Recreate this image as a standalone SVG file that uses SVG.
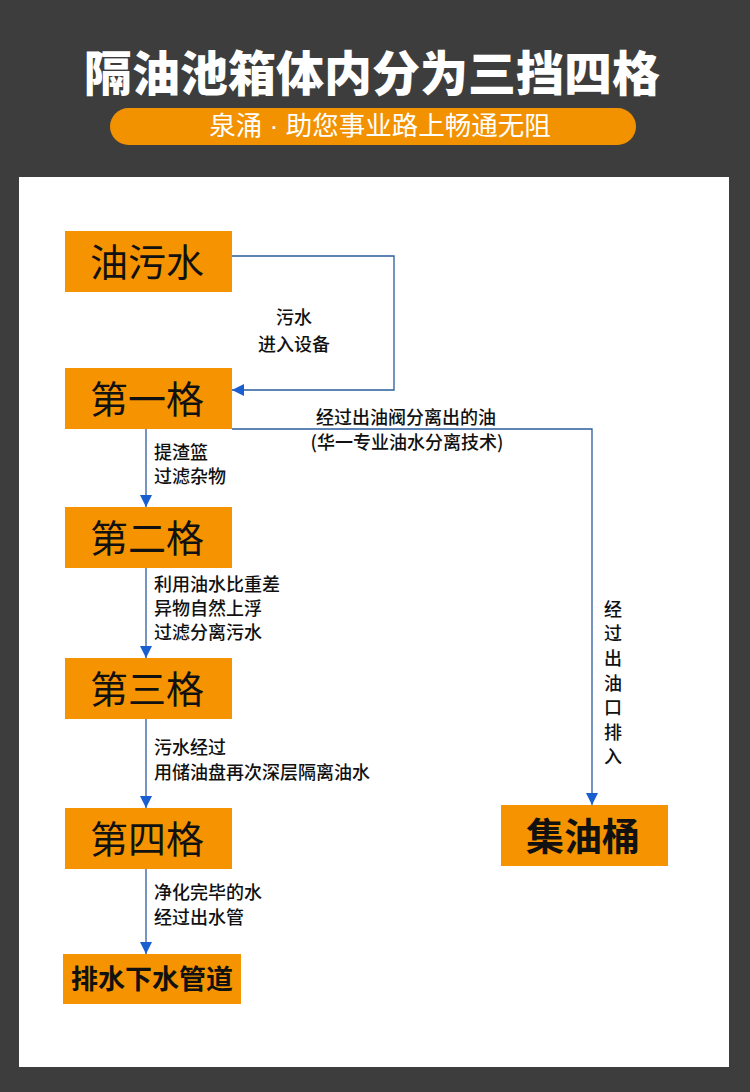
<svg xmlns="http://www.w3.org/2000/svg" width="750" height="1092" viewBox="0 0 750 1092">
<style>
.node{fill:#f59400}
.nt{font-family:"Noto Sans CJK SC","Noto Sans",sans-serif;fill:#111;text-anchor:middle;dominant-baseline:central}
.lbl{font-family:"Noto Sans CJK SC","Noto Sans",sans-serif;font-size:18px;font-weight:500;fill:#111;dominant-baseline:central}
.ln{fill:none;stroke:#2a5c9e;stroke-width:1.3}
</style>
<defs>
<marker id="ah" viewBox="0 0 12 12" refX="12" refY="6" markerWidth="12" markerHeight="12" markerUnits="userSpaceOnUse" orient="auto">
<path d="M0,0 L12,6 L0,12 Z" fill="#1a5fd0"/>
</marker>
</defs>
<rect x="0" y="0" width="750" height="1092" fill="#3d3d3d"/>
<text x="372" y="70" font-family="'Noto Sans CJK SC',sans-serif" font-size="48" font-weight="900" fill="#fff" text-anchor="middle" dominant-baseline="central">隔油池箱体内分为三挡四格</text>
<rect x="110" y="108" width="526" height="37" rx="18.5" fill="#f39200"/>
<text x="380" y="126" font-family="'Liberation Sans','Noto Sans CJK SC',sans-serif" font-size="26.5" font-weight="400" fill="#fff" text-anchor="middle" dominant-baseline="central">泉涌 · 助您事业路上畅通无阻</text>
<rect x="19" y="177" width="710" height="890" fill="#fff"/>

<g id="connectors">
<polyline class="ln" points="232,256 394,256 394,390 232,390" marker-end="url(#ah)"/>
<polyline class="ln" points="232,429 592,429 592,805" marker-end="url(#ah)"/>
<line class="ln" x1="146" y1="429" x2="146" y2="507" marker-end="url(#ah)"/>
<line class="ln" x1="146" y1="568" x2="146" y2="658" marker-end="url(#ah)"/>
<line class="ln" x1="146" y1="719" x2="146" y2="808" marker-end="url(#ah)"/>
<line class="ln" x1="146" y1="869" x2="146" y2="954" marker-end="url(#ah)"/>
<text class="lbl" x="294" y="316" text-anchor="middle">污水</text>
<text class="lbl" x="294" y="343" text-anchor="middle">进入设备</text>
<text class="lbl" x="406" y="416" text-anchor="middle" font-size="17.5">经过出油阀分离出的油</text>
<text class="lbl" x="407" y="441" text-anchor="middle" font-size="17.5">(华一专业油水分离技术)</text>
<text class="lbl" x="154" y="451">提渣篮</text>
<text class="lbl" x="154" y="475">过滤杂物</text>
<text class="lbl" x="154" y="583">利用油水比重差</text>
<text class="lbl" x="154" y="607">异物自然上浮</text>
<text class="lbl" x="154" y="631">过滤分离污水</text>
<text class="lbl" x="154" y="746">污水经过</text>
<text class="lbl" x="154" y="771">用储油盘再次深层隔离油水</text>
<text class="lbl" x="154" y="891">净化完毕的水</text>
<text class="lbl" x="154" y="916">经过出水管</text>
<text class="lbl" x="613" y="608" text-anchor="middle">经</text>
<text class="lbl" x="613" y="632" text-anchor="middle">过</text>
<text class="lbl" x="613" y="657" text-anchor="middle">出</text>
<text class="lbl" x="613" y="682" text-anchor="middle">油</text>
<text class="lbl" x="613" y="706" text-anchor="middle">口</text>
<text class="lbl" x="613" y="731" text-anchor="middle">排</text>
<text class="lbl" x="613" y="755" text-anchor="middle">入</text>
</g>

<g id="node-wastewater">
<rect class="node" x="65" y="231" width="167" height="61"/>
<text class="nt" x="147" y="259" font-size="38">油污水</text>
</g>
<g id="node-cell1">
<rect class="node" x="65" y="368" width="167" height="61"/>
<text class="nt" x="147" y="396" font-size="38">第一格</text>
</g>
<g id="node-cell2">
<rect class="node" x="65" y="507" width="167" height="61"/>
<text class="nt" x="147" y="535" font-size="38">第二格</text>
</g>
<g id="node-cell3">
<rect class="node" x="65" y="658" width="167" height="61"/>
<text class="nt" x="147" y="686" font-size="38">第三格</text>
</g>
<g id="node-cell4">
<rect class="node" x="65" y="808" width="167" height="61"/>
<text class="nt" x="147" y="836" font-size="38">第四格</text>
</g>
<g id="node-drain">
<rect class="node" x="63" y="954" width="178" height="50"/>
<text class="nt" x="152" y="977" font-size="27" font-weight="700">排水下水管道</text>
</g>
<g id="node-oilbucket">
<rect class="node" x="501" y="805" width="167" height="61"/>
<text class="nt" x="583" y="833" font-size="38" font-weight="700">集油桶</text>
</g>
</svg>
